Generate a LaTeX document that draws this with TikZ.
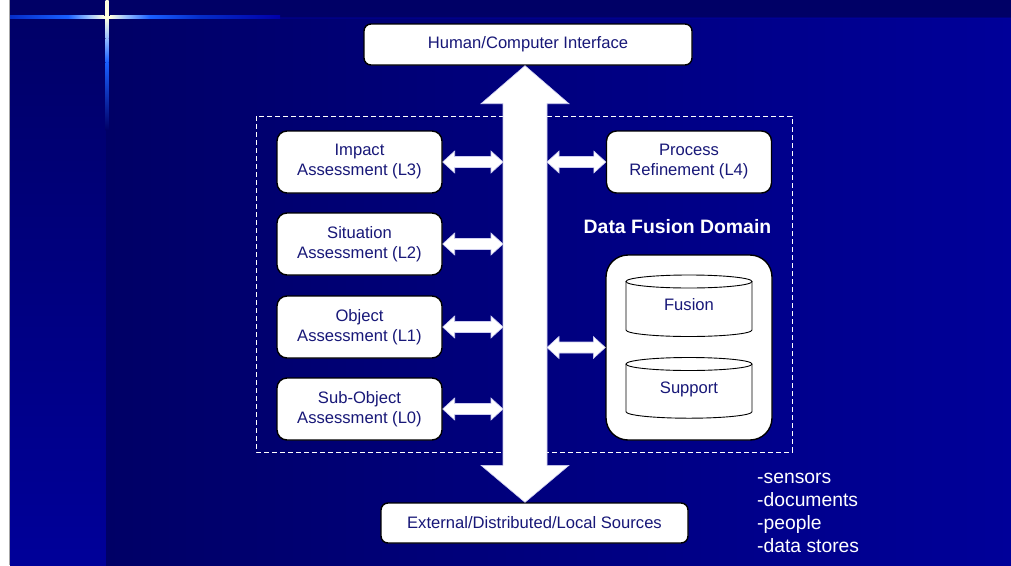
\documentclass[tikz,border=0pt]{standalone}
\usepackage{fontspec}
\setmainfont{Liberation Sans}
\usetikzlibrary{calc}

\definecolor{navy}{RGB}{0,0,102}
\definecolor{slideblue}{RGB}{0,0,153}
\definecolor{seamblue}{RGB}{0,0,170}
\definecolor{boxtext}{RGB}{24,24,120}
\definecolor{glowpale}{RGB}{255,255,224}
\definecolor{glowlight}{RGB}{150,190,255}
\definecolor{glowbright}{RGB}{25,95,255}
\definecolor{glowmid}{RGB}{5,45,200}
\definecolor{arrowedge}{RGB}{205,205,240}

\tikzset{
  levelbox/.style={draw=black, line width=1.4pt, fill=white, rounded corners=10pt,
    minimum width=165pt, minimum height=62pt, inner sep=0pt, align=center,
    text=boxtext, font=\fontsize{16.6}{20}\selectfont},
  endbox/.style={draw=black, line width=1.4pt, fill=white, rounded corners=7pt,
    inner sep=0pt, text=boxtext, font=\fontsize{16.6}{20}\selectfont},
  storebox/.style={draw=black, line width=1.4pt, fill=white, rounded corners=22pt,
    minimum width=166pt, minimum height=185pt, inner sep=0pt},
  cyl/.style={draw=black, line width=0.9pt},
  cyltext/.style={text=boxtext, font=\fontsize{16.6}{20}\selectfont, inner sep=0pt},
  domainlabel/.style={text=white, font=\bfseries\fontsize{19.4}{23}\selectfont, inner sep=0pt},
  sourcelist/.style={text=white, font=\fontsize{19.3}{23}\selectfont, inner sep=0pt, align=left},
  domainframe/.style={draw=white, line width=1pt, dash pattern=on 5pt off 3pt},
  arrowshape/.style={fill=white, draw=arrowedge, line width=0.6pt, line join=miter},
}

% white two-headed horizontal arrow between two points at the same height
\newcommand\fusionlink[2]{%
  \path[arrowshape] let \p1=(#1), \p2=(#2) in
    (\x1,\y1) -- (\x1+12pt,\y1+11pt) -- (\x1+12pt,\y1+5.5pt) -- (\x2-12pt,\y1+5.5pt)
    -- (\x2-12pt,\y1+11pt) -- (\x2,\y1) -- (\x2-12pt,\y1-11pt) -- (\x2-12pt,\y1-5.5pt)
    -- (\x1+12pt,\y1-5.5pt) -- (\x1+12pt,\y1-11pt) -- cycle;}

\begin{document}
\begin{tikzpicture}[x=1pt, y=-1pt]
\useasboundingbox (0,0) rectangle (1011,565);

% slide background
\fill[white] (0,0) rectangle (10,565);
\draw[gray!70, line width=1pt] (9.5,0) -- (9.5,565);
\shade[top color=navy, bottom color=slideblue] (10,0) rectangle (106,565);
\fill[navy] (10,0) rectangle (1011,18);
\shade[left color=navy, right color=slideblue] (106,18) rectangle (1011,565);
\fill[seamblue, opacity=0.35] (10,16.5) rectangle (1011,18.5);

% sparkle in the corner
\shade[top color=glowpale, bottom color=glowpale] (105.5,0) rectangle (108.5,18);
\shade[top color=glowpale, bottom color=glowlight] (105.5,18) rectangle (108.5,38);
\shade[top color=glowlight, bottom color=glowbright] (105.5,38) rectangle (108.5,62);
\shade[top color=glowbright, bottom color=navy] (105.5,62) rectangle (108.5,130);
\shade[left color=glowmid, right color=glowbright] (10,15.5) rectangle (68,18.5);
\shade[left color=glowbright, right color=glowlight] (68,15.5) rectangle (88,18.5);
\shade[left color=glowlight, right color=glowpale] (88,15.5) rectangle (104,18.5);
\fill[glowpale] (104,15.5) rectangle (110,18.5);
\shade[left color=glowpale, right color=glowlight] (110,15.5) rectangle (126,18.5);
\shade[left color=glowlight, right color=glowbright] (126,15.5) rectangle (150,18.5);
\shade[left color=glowbright, right color=glowmid] (150,15.5) rectangle (200,18.5);
\shade[left color=glowmid, right color=seamblue] (200,15.5) rectangle (280,18.5);

% data fusion domain frame
\draw[domainframe] (256,116) rectangle (792,452);

% end boxes
\node[endbox, minimum width=328pt, minimum height=41pt] (hci) at (528,44.5) {Human/Computer Interface};
\node[endbox, minimum width=307pt, minimum height=40pt] (ext) at (534.5,523) {External/Distributed/Local Sources};

% central bus
\coordinate (busC) at (525,300);
\coordinate (busL) at (503,300);
\coordinate (busR) at (547,300);
\path[arrowshape] let \p1=(hci.south -| busC), \p2=(ext.north -| busC) in
  (\x1,\y1) -- (\x1+44pt,\y1-38pt) -- (\x1+22pt,\y1-38pt) -- (\x1+22pt,\y2+37pt)
  -- (\x1+44pt,\y2+37pt) -- (\x2,\y2) -- (\x1-44pt,\y2+37pt) -- (\x1-22pt,\y2+37pt)
  -- (\x1-22pt,\y1-38pt) -- (\x1-44pt,\y1-38pt) -- cycle;

% fusion levels
\node[levelbox] (l3) at (359.5,162) {Impact\\Assessment (L3)};
\node[levelbox] (l2) at (359.5,244) {Situation\\Assessment (L2)};
\node[levelbox] (l1) at (359.5,327) {Object\\Assessment (L1)};
\node[levelbox] (l0) at (359.5,409) {Sub-Object\\Assessment (L0)};
\node[levelbox] (l4) at (689,162) {Process\\Refinement (L4)};

\node[domainlabel] (dfd) at (677.5,227) {Data Fusion Domain};

% database management
\node[storebox] (store) at (689,347.5) {};
\draw[cyl] (626,281.5) -- (626,330) .. controls (626,333.59) and (654.21,336.5) .. (689,336.5)
  .. controls (723.79,336.5) and (752,333.59) .. (752,330) -- (752,281.5);
\draw[cyl] (689,281.5) ellipse [x radius=63, y radius=6.5];
\node[cyltext, anchor=base] (fusion) at (689,310.5) {Fusion};
\draw[cyl] (626,364) -- (626,411.7) .. controls (626,415.29) and (654.21,418.2) .. (689,418.2)
  .. controls (723.79,418.2) and (752,415.29) .. (752,411.7) -- (752,364);
\draw[cyl] (689,364) ellipse [x radius=63, y radius=6.5];
\node[cyltext, anchor=base] (support) at (689,393) {Support};

% links to the bus
\fusionlink{l3.east}{l3.east -| busL}
\fusionlink{l2.east}{l2.east -| busL}
\fusionlink{l1.east}{l1.east -| busL}
\fusionlink{l0.east}{l0.east -| busL}
\fusionlink{l4.west -| busR}{l4.west}
\fusionlink{store.west -| busR}{store.west}

% source types (base anchor sits on the last line)
\node[sourcelist, anchor=base west] (src) at (757,552) {-sensors\\-documents\\-people\\-data stores};
\end{tikzpicture}
\end{document}
